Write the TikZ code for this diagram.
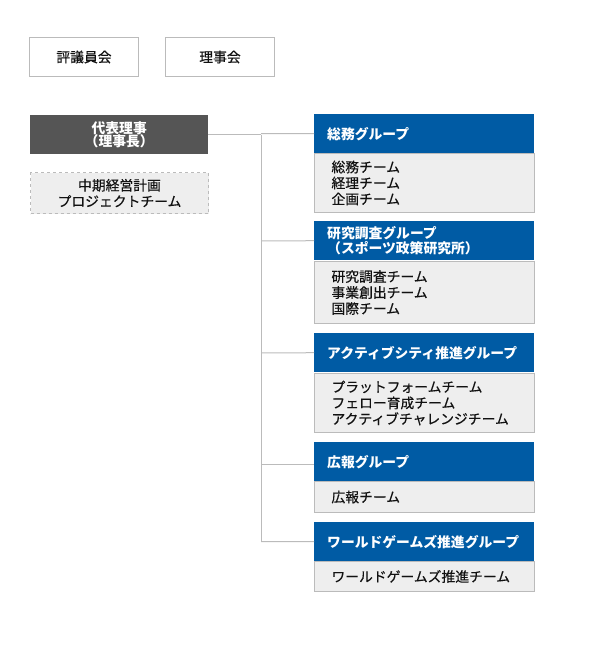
\documentclass[tikz,border=0pt]{standalone}
\usepackage{fontspec}
\setmainfont{Noto Sans CJK JP}
\newfontfamily\jpmed{Noto Sans CJK JP}[FakeBold=0.4]
\definecolor{hdrblue}{HTML}{005BA4}
\definecolor{ceogray}{HTML}{555555}
\definecolor{bodyfill}{HTML}{EEEEEE}
\definecolor{bord}{HTML}{BBBBBB}
\definecolor{txt}{HTML}{111111}
\begin{document}
\begin{tikzpicture}[x=1pt,y=-1pt,
  topbox/.style={draw=bord, line width=1pt, fill=white, minimum width=109, minimum height=39, anchor=north west, inner sep=0pt, text=txt, font=\jpmed\fontsize{13.8}{16}\selectfont},
  ceobox/.style={fill=ceogray, text=white, minimum width=178, minimum height=39, anchor=north west, inner sep=0pt, align=center, font=\bfseries\fontsize{13.8}{13.5}\selectfont},
  planbox/.style={draw=bord, dashed, line width=1pt, fill=bodyfill, minimum width=178, minimum height=41, anchor=north west, inner sep=0pt, align=center, text=txt, font=\jpmed\fontsize{13.8}{16}\selectfont},
  hdrbox/.style={fill=hdrblue, text=white, minimum width=220, minimum height=39, anchor=north west, text width=194, inner xsep=13pt, inner ysep=0pt, align=left, font=\bfseries\fontsize{13.8}{13.5}\selectfont},
  bodybox/.style={fill=bodyfill, draw=bord, line width=1pt, minimum width=220, anchor=north west, text width=186, inner xsep=17pt, inner ysep=0pt, align=left, text=txt, font=\jpmed\fontsize{13.8}{16}\selectfont},
  conn/.style={draw=bord, line width=1pt}
]
\useasboundingbox (0,0) rectangle (594,669);

\node[topbox] (hyogi) at (29,37) {評議員会};
\node[topbox] (riji) at (165,37) {理事会};

\node[ceobox] (ceo) at (30,115) {代表理事\\（理事長）};
\node[planbox] (plan) at (30,172) {中期経営計画\\プロジェクトチーム};

\node[bodybox, minimum height=59] (b1) at (314,153) {総務チーム\\経理チーム\\企画チーム};
\node[hdrbox] (g1) at (314,114) {総務グループ};

\node[bodybox, minimum height=62] (b2) at (314,261) {研究調査チーム\\事業創出チーム\\国際チーム};
\node[hdrbox] (g2) at (314,221) {研究調査グループ\\（スポーツ政策研究所）};

\node[bodybox, minimum height=59] (b3) at (314,373) {プラットフォームチーム\\フェロー育成チーム\\アクティブチャレンジチーム};
\node[hdrbox] (g3) at (314,333) {アクティブシティ推進グループ};

\node[bodybox, minimum height=31] (b4) at (314,481) {広報チーム};
\node[hdrbox] (g4) at (314,442) {広報グループ};

\node[bodybox, minimum height=30] (b5) at (314,561) {ワールドゲームズ推進チーム};
\node[hdrbox] (g5) at (314,522) {ワールドゲームズ推進グループ};

\coordinate (j1) at (261,133.5);
\coordinate (j2) at (261,241);
\coordinate (j3) at (261,353);
\coordinate (j4) at (261,464);
\coordinate (j5) at (261,541.5);

\draw[conn] (ceo.east) -- (ceo.east -| j1);
\draw[conn] (ceo.east -| j1) -- (j5);
\draw[conn] (j1) -- (g1.west);
\draw[conn] (j2) -- (g2.west);
\draw[conn] (j3) -- (g3.west);
\draw[conn] (j4) -- (j4 -| g4.west);
\draw[conn] (j5) -- (g5.west);
\end{tikzpicture}
\end{document}
